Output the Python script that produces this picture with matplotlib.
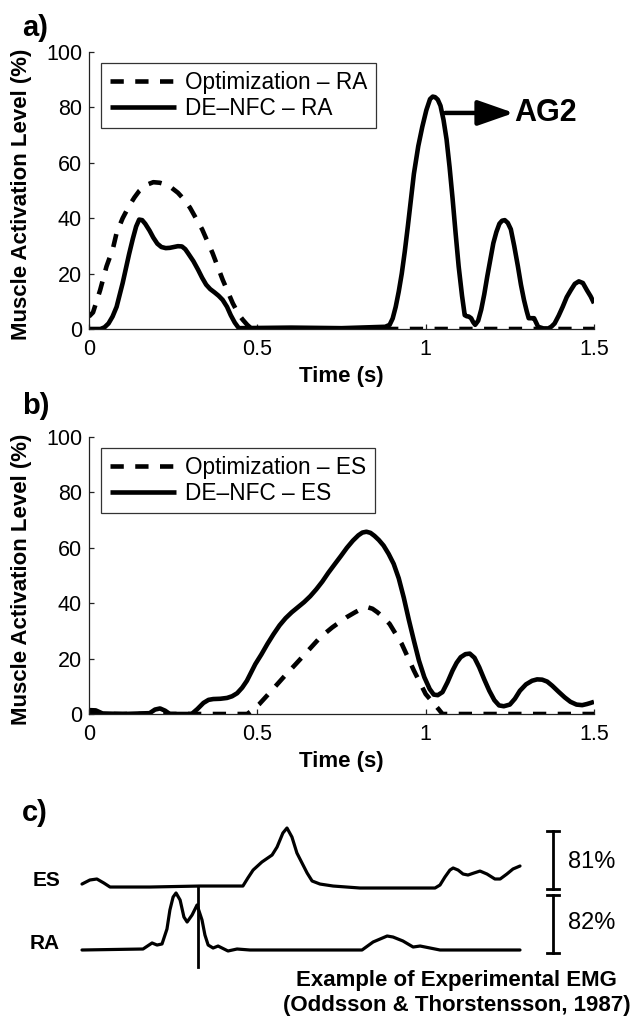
import numpy as np
import matplotlib
matplotlib.use("Agg")
import matplotlib.pyplot as plt

plt.rcParams['font.family'] = ['Liberation Sans', 'DejaVu Sans']

# ---------------- Panel a: rectus abdominis (RA) ----------------
t_opt_ra = [0.0, 0.012, 0.033, 0.052, 0.071, 0.082, 0.100, 0.119, 0.135, 0.149, 0.170,
            0.191, 0.210, 0.227, 0.245, 0.264, 0.282, 0.300, 0.336, 0.367, 0.397,
            0.427, 0.445, 0.457, 0.470, 0.481, 0.50, 1.50]
v_opt_ra = [4.5, 6.0, 14.0, 22.6, 29.0, 34.7, 40.0, 44.4, 47.5, 49.8, 52.0,
            53.0, 52.8, 52.2, 51.0, 49.2, 46.8, 43.8, 36.0, 27.4, 17.8,
            9.3, 5.2, 3.3, 1.5, 0.3, 0.0, 0.0]

t_nfc_ra = [0.0, 0.034, 0.046, 0.058, 0.070, 0.082, 0.100, 0.119, 0.130, 0.140, 0.149,
            0.158, 0.167, 0.180, 0.191, 0.203, 0.215, 0.228, 0.240, 0.252, 0.264,
            0.276, 0.286, 0.294, 0.310, 0.324, 0.336, 0.348, 0.360, 0.373, 0.385,
            0.397, 0.410, 0.421, 0.433, 0.445, 0.60, 0.75, 0.88, 0.893, 0.902,
            0.911, 0.920, 0.929, 0.938, 0.947, 0.956, 0.965, 0.978, 0.990, 1.002,
            1.013, 1.021, 1.028, 1.036, 1.044, 1.053, 1.062, 1.071, 1.080, 1.089,
            1.098, 1.108, 1.116, 1.122, 1.128, 1.135, 1.141, 1.147, 1.156, 1.165,
            1.174, 1.183, 1.192, 1.201, 1.210, 1.219, 1.227, 1.235, 1.244, 1.253,
            1.263, 1.274, 1.283, 1.292, 1.300, 1.306, 1.314, 1.322, 1.334, 1.350,
            1.364, 1.373, 1.383, 1.395, 1.407, 1.419, 1.431, 1.443, 1.455, 1.467,
            1.479, 1.490, 1.500]
v_nfc_ra = [0.0, 0.0, 0.6, 2.0, 4.5, 8.0, 16.6, 27.0, 32.5, 37.0, 39.5,
            39.3, 38.0, 35.5, 33.0, 30.8, 29.6, 29.2, 29.3, 29.6, 29.9,
            29.8, 28.8, 27.4, 24.5, 21.4, 18.5, 16.0, 14.4, 13.2, 12.0,
            10.5, 8.0, 5.0, 2.3, 0.3, 0.5, 0.3, 0.8, 1.5, 3.8,
            8.0, 13.5, 20.0, 28.0, 37.0, 46.5, 56.0, 66.0, 73.0, 79.0,
            83.0, 83.9, 83.7, 82.8, 80.6, 75.5, 68.5, 58.5, 47.0, 34.5,
            22.6, 12.0, 5.0, 4.6, 4.5, 3.9, 2.5, 1.5, 3.0, 7.0,
            12.5, 19.0, 25.0, 31.0, 35.0, 38.0, 39.1, 39.3, 38.3, 36.0,
            30.0, 22.6, 16.0, 10.5, 6.5, 3.9, 3.9, 3.9, 0.8, 0.2,
            0.2, 0.8, 2.0, 4.8, 8.0, 11.5, 14.0, 16.3, 17.2, 16.6,
            14.0, 11.8, 9.3]

# ---------------- Panel b: erector spinae (ES) ----------------
t_opt_es = [0.0, 0.47, 0.481, 0.506, 0.542, 0.578, 0.614, 0.651, 0.687, 0.723, 0.766,
            0.790, 0.810, 0.826, 0.842, 0.857, 0.875, 0.893, 0.929, 0.965, 1.000,
            1.038, 1.050, 1.500]
v_opt_es = [0.0, 0.0, 1.0, 3.6, 8.4, 13.3, 18.0, 22.9, 27.7, 31.3, 35.0,
            36.7, 38.0, 38.6, 38.0, 36.7, 34.8, 32.5, 25.3, 15.7, 7.2,
            1.8, 0.0, 0.0]

t_nfc_es = [0.0, 0.02, 0.04, 0.10, 0.18, 0.196, 0.211, 0.226, 0.24, 0.305, 0.322,
            0.340, 0.355, 0.369, 0.390, 0.410, 0.425, 0.440, 0.455, 0.469, 0.494,
            0.512, 0.530, 0.548, 0.566, 0.584, 0.602, 0.620, 0.639, 0.657, 0.675,
            0.693, 0.711, 0.730, 0.748, 0.766, 0.784, 0.800, 0.812, 0.824, 0.836,
            0.848, 0.861, 0.875, 0.890, 0.905, 0.920, 0.935, 0.950, 0.965, 0.980,
            0.996, 1.012, 1.024, 1.036, 1.050, 1.065, 1.080, 1.092, 1.104, 1.118,
            1.131, 1.145, 1.159, 1.174, 1.189, 1.204, 1.218, 1.232, 1.250, 1.265,
            1.280, 1.298, 1.316, 1.331, 1.346, 1.361, 1.376, 1.395, 1.413, 1.430,
            1.448, 1.465, 1.479, 1.490, 1.500]
v_nfc_es = [1.4, 1.3, 0.2, 0.0, 0.3, 1.6, 2.0, 1.2, 0.0, 0.0, 1.8,
            4.0, 5.1, 5.4, 5.5, 5.8, 6.4, 7.5, 9.5, 12.0, 18.0,
            21.5, 25.3, 28.8, 32.0, 34.6, 36.7, 38.5, 40.4, 42.5, 45.0,
            47.8, 51.0, 54.1, 57.0, 60.0, 62.6, 64.5, 65.5, 65.8, 65.4,
            64.3, 62.8, 60.8, 57.8, 54.2, 49.0, 42.0, 34.0, 26.5, 19.3,
            13.3, 9.0, 7.0, 6.8, 7.9, 11.5, 15.7, 18.5, 20.5, 21.6,
            21.8, 20.3, 16.9, 12.5, 8.4, 5.0, 3.1, 2.8, 3.4, 5.5,
            8.4, 10.7, 12.0, 12.5, 12.4, 11.7, 10.2, 8.0, 6.0, 4.4,
            3.4, 3.2, 3.6, 4.0, 4.4]

# ---------------- Panel c: recorded EMG traces ----------------
t_emg_es = [0.0, 0.027, 0.051, 0.075, 0.096, 0.233, 0.404, 0.551, 0.568, 0.586, 0.616,
            0.651, 0.668, 0.688, 0.702, 0.719, 0.736, 0.771, 0.788, 0.815, 0.860,
            0.952, 1.089, 1.209, 1.226, 1.243, 1.260, 1.271, 1.288, 1.305, 1.322,
            1.342, 1.363, 1.387, 1.414, 1.432, 1.455, 1.476, 1.500]
v_emg_es = [4.2, 9.9, 11.3, 5.6, 0.0, 0.0, 1.4, 1.4, 12.7, 23.9, 35.2,
            45.1, 56.3, 76.1, 83.1, 70.4, 47.9, 19.7, 8.5, 4.2, 1.4,
            -1.4, -1.4, -1.4, 2.8, 14.1, 23.9, 26.8, 23.9, 18.3, 16.9,
            19.7, 22.5, 18.3, 11.3, 11.3, 18.3, 25.4, 29.6]

t_emg_ra = [0.0, 0.209, 0.240, 0.257, 0.274, 0.291, 0.301, 0.312, 0.322, 0.336, 0.349,
            0.360, 0.377, 0.394, 0.411, 0.421, 0.432, 0.449, 0.466, 0.500, 0.531,
            0.575, 0.959, 0.997, 1.045, 1.065, 1.099, 1.134, 1.158, 1.192, 1.226, 1.500]
v_emg_ra = [0.0, 1.4, 9.9, 7.0, 8.5, 29.6, 56.3, 74.6, 80.3, 70.4, 46.5,
            39.4, 49.3, 63.4, 42.3, 21.1, 7.0, 2.8, 5.6, -1.4, 1.4,
            0.0, 0.0, 11.3, 19.7, 18.3, 12.7, 4.2, 5.6, 2.8, 0.0, 0.0]

es_offset = 88.7        # vertical offset of the ES trace above the RA trace
marker_time = 0.397     # vertical event marker
scale_es = 81           # calibration bars (%)
scale_ra = 82

x_ticks = [0, 0.5, 1, 1.5]
x_tick_labels = ['0', '0.5', '1', '1.5']
y_ticks = [0, 20, 40, 60, 80, 100]

W, H = 636, 1017
fig = plt.figure(figsize=(W / 100, H / 100), dpi=100)

LW = 3.3
DASH = (2.9, 2.5)


def style_axes(ax):
    ax.set_xlim(0, 1.5)
    ax.set_ylim(0, 100)
    ax.set_xticks(x_ticks)
    ax.set_xticklabels(x_tick_labels)
    ax.set_yticks(y_ticks)
    for s in ('top', 'right'):
        ax.spines[s].set_visible(False)
    for s in ('left', 'bottom'):
        ax.spines[s].set_linewidth(0.9)
        ax.spines[s].set_color('#222222')
    ax.tick_params(direction='in', length=3.8, width=0.9, labelsize=15.5,
                   color='#222222')
    ax.tick_params(axis='y', pad=5)
    ax.tick_params(axis='x', pad=7)
    ax.set_xlabel('Time (s)', fontsize=16, fontweight='bold', va='center')
    ax.xaxis.set_label_coords(0.5, -0.173)
    ax.set_ylabel('Muscle Activation Level (%)', fontsize=16, fontweight='bold',
                  va='center')
    ax.yaxis.set_label_coords(-0.1327, 0.487)


def panel(ax, t_opt, v_opt, t_nfc, v_nfc, lab_opt, lab_nfc):
    ax.plot(t_opt, v_opt, color='k', lw=LW, dashes=DASH, dash_capstyle='butt',
            solid_joinstyle='round', label=lab_opt)
    ax.plot(t_nfc, v_nfc, color='k', lw=LW, solid_joinstyle='round',
            solid_capstyle='butt', label=lab_nfc)
    leg = ax.legend(loc='upper left', bbox_to_anchor=(0.0238, 0.962),
                    borderaxespad=0, fontsize=16.3, frameon=True, fancybox=False,
                    edgecolor='k', handlelength=2.95, handletextpad=0.4,
                    labelspacing=0.12, borderpad=0.38)
    leg.get_frame().set_linewidth(0.9)
    style_axes(ax)


ax_a = fig.add_axes([89 / W, 1 - 329 / H, 505 / W, 277 / H])
panel(ax_a, t_opt_ra, v_opt_ra, t_nfc_ra, v_nfc_ra,
      'Optimization – RA', 'DE–NFC – RA')
ax_a.annotate('', xy=(1.262, 78), xytext=(1.058, 78),
              arrowprops=dict(arrowstyle='-|>,head_length=1.0,head_width=0.35',
                              lw=3.2, color='k', shrinkA=0, shrinkB=0,
                              mutation_scale=22))
ax_a.text(1.262, 78, 'AG2', fontsize=22, fontweight='bold', ha='left', va='center')

ax_b = fig.add_axes([89 / W, 1 - 714 / H, 505 / W, 277 / H])
panel(ax_b, t_opt_es, v_opt_es, t_nfc_es, v_nfc_es,
      'Optimization – ES', 'DE–NFC – ES')

# Panel c drawn in its own frameless axes (time in s, amplitude in %)
px_per_s = 292.0
px_per_pct = 0.71
c_top, c_bottom = 790, 1017
ax_c = fig.add_axes([0, 1 - c_bottom / H, 1, (c_bottom - c_top) / H])
ax_c.set_xlim(-82 / px_per_s, (W - 82) / px_per_s)
ax_c.set_ylim(-(c_bottom - 950) / px_per_pct, (950 - c_top) / px_per_pct)
ax_c.axis('off')

ax_c.plot(t_emg_es, np.array(v_emg_es) + es_offset, color='k', lw=2.3,
          solid_joinstyle='round', solid_capstyle='round')
ax_c.plot(t_emg_ra, v_emg_ra, color='k', lw=2.3,
          solid_joinstyle='round', solid_capstyle='round')
ax_c.plot([marker_time, marker_time], [es_offset, -24], color='k', lw=2.0)

bar_t = 1.613
cap = 0.019
es_bar = (es_offset - 2.7, es_offset - 2.7 + scale_es)
ra_bar = (-4.0, -4.0 + scale_ra)
for lo, hi in (es_bar, ra_bar):
    ax_c.plot([bar_t, bar_t], [lo, hi], color='k', lw=2.0)
    for yy in (lo, hi):
        ax_c.plot([bar_t - cap, bar_t + cap], [yy, yy], color='k', lw=2.0)

ax_c.text(1.664, 124, f'{scale_es}%', fontsize=17, ha='left', va='center')
ax_c.text(1.664, 38, f'{scale_ra}%', fontsize=17, ha='left', va='center')
ax_c.text(-0.075, 97.2, 'ES', fontsize=15, fontweight='bold', ha='right',
          va='center')
ax_c.text(-0.075, 8.5, 'RA', fontsize=15, fontweight='bold', ha='right',
          va='center')

fig.text(456 / W, 1 - 986 / H, 'Example of Experimental EMG', fontsize=16,
         fontweight='bold', ha='center', va='baseline')
fig.text(457 / W, 1 - 1011 / H, '(Oddsson & Thorstensson, 1987)', fontsize=16,
         fontweight='bold', ha='center', va='baseline')

# Panel letters
for lab, yc in (('a)', 28), ('b)', 406), ('c)', 813)):
    fig.text(22 / W, 1 - yc / H, lab, fontsize=21, fontweight='bold',
             ha='left', va='center')

fig.savefig('out.png', dpi=100)
